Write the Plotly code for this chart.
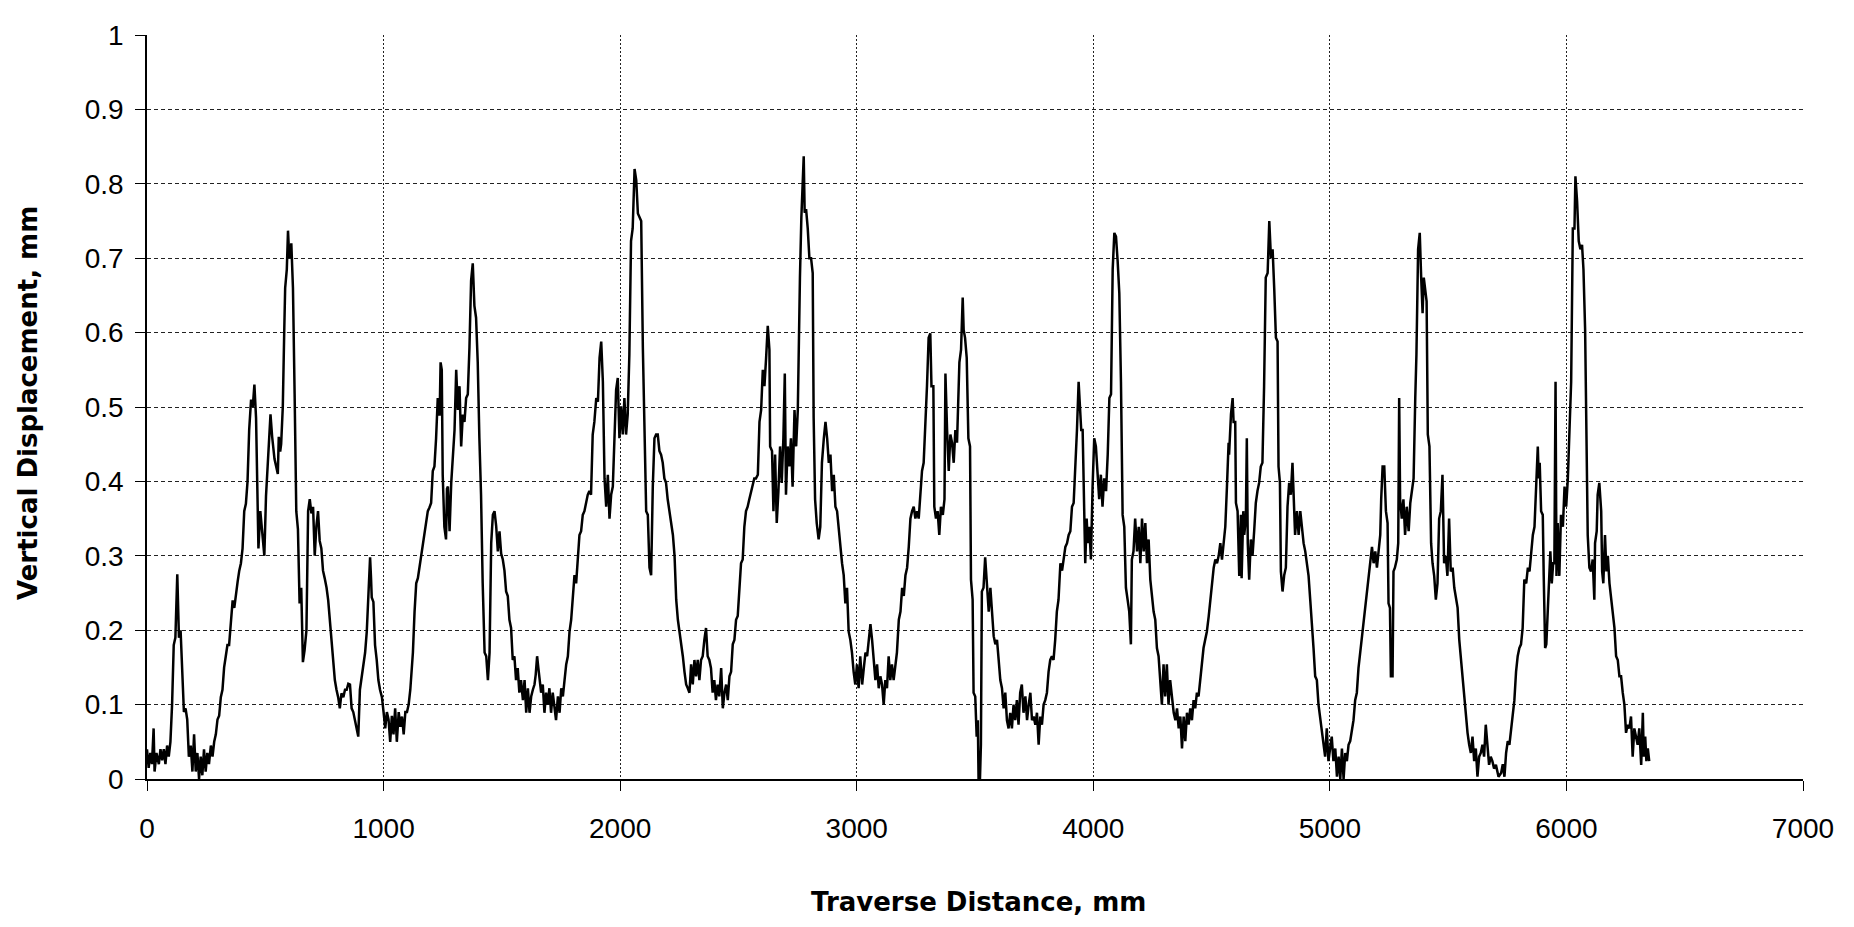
import plotly.graph_objects as go

# (distance mm, vertical displacement mm), one list per wave
wave_1 = [(0,0.04),(7,0.015),(14,0.035),(21,0.02),(28,0.068),(32,0.01),(40,0.035),(50,0.02),(57,0.04),(64,0.025),
          (71,0.04),(78,0.02),(85,0.045),(92,0.03),(99,0.05),(106,0.10),(113,0.18),(120,0.19),(128,0.275),(135,0.19),
          (142,0.2),(149,0.15),(156,0.09),(163,0.095),(170,0.08),(177,0.03),(185,0.045),(192,0.01),(199,0.06),(206,0.01),
          (213,0.035),(220,0.0),(227,0.03),(234,0.005),(241,0.04),(248,0.01),(255,0.035),(262,0.02),(270,0.045),(277,0.03),
          (284,0.05),(291,0.06),(298,0.08),(305,0.085),(312,0.11),(319,0.12),(326,0.15),(333,0.165),(340,0.18),(347,0.18),
          (354,0.215),(362,0.24),(369,0.23),(376,0.25),(383,0.265),(390,0.28),(397,0.29),(404,0.31),(411,0.36),(418,0.37),
          (425,0.40),(432,0.47),(440,0.51),(447,0.50),(454,0.53),(461,0.485),(465,0.39),(471,0.31),(479,0.36),(489,0.33),
          (496,0.30),(503,0.38),(509,0.42),(515,0.45),(522,0.49),(529,0.46),(535,0.44),(539,0.43),(546,0.42),(553,0.41),
          (557,0.46),(563,0.44),(567,0.45),(574,0.50),(580,0.60),(584,0.66),(591,0.685),(596,0.737),(600,0.71),(603,0.70),
          (610,0.72),(614,0.69),(617,0.66),(624,0.517),(631,0.36),(638,0.336),(645,0.236),(652,0.257),(659,0.157),(666,0.173),
          (674,0.20),(681,0.36),(688,0.376),(695,0.357),(702,0.366),(709,0.30),(716,0.34),(723,0.36),(730,0.32),(737,0.31),
          (744,0.28),(751,0.27),(759,0.257),(766,0.24),(773,0.214),(780,0.19),(787,0.17),(794,0.133),(801,0.12),(808,0.11),
          (815,0.095),(822,0.115),(830,0.11),(837,0.12),(844,0.12),(851,0.128),(858,0.127),(865,0.095),(872,0.09),(879,0.08),
          (886,0.07),(893,0.057),(900,0.12),(908,0.14),(915,0.16),(922,0.17),(929,0.198),(936,0.24),(943,0.298),(947,0.27),
          (950,0.244),(957,0.238),(964,0.18),(971,0.16),(978,0.133),(985,0.12),(993,0.11),(1000,0.09),(1007,0.068),(1014,0.09),
          (1021,0.08),(1028,0.05),(1035,0.085),(1042,0.06),(1049,0.095),(1056,0.05),(1064,0.09),(1071,0.07),(1078,0.084),(1085,0.06),
          (1092,0.09),(1099,0.09),(1106,0.10)]

wave_2 = [(1113,0.12),(1124,0.17),(1131,0.225),(1138,0.263),(1145,0.27),(1152,0.284),(1159,0.3),(1166,0.317),(1173,0.328),(1180,0.34),
          (1187,0.36),(1194,0.365),(1201,0.371),(1208,0.414),(1215,0.42),(1222,0.458),(1229,0.512),(1233,0.49),(1237,0.49),(1241,0.56),
          (1246,0.55),(1250,0.409),(1254,0.38),(1257,0.339),(1264,0.322),(1268,0.39),(1272,0.393),(1276,0.35),(1279,0.333),(1286,0.398),
          (1293,0.43),(1300,0.469),(1307,0.55),(1310,0.51),(1314,0.496),(1321,0.528),(1325,0.47),(1328,0.447),(1335,0.49),(1342,0.48),
          (1349,0.512),(1356,0.517),(1363,0.58),(1370,0.67),(1377,0.693),(1381,0.66),(1384,0.636),(1391,0.62),(1398,0.56),(1405,0.458),
          (1412,0.382),(1419,0.263),(1427,0.17),(1434,0.165),(1441,0.133),(1448,0.17),(1455,0.317),(1462,0.355),(1469,0.36),(1476,0.34),
          (1483,0.306),(1490,0.333),(1497,0.303),(1504,0.295),(1511,0.28),(1518,0.252),(1525,0.246),(1532,0.214),(1539,0.203),(1546,0.16),
          (1553,0.165),(1560,0.133),(1567,0.149),(1574,0.116),(1581,0.133),(1589,0.106),(1596,0.133),(1603,0.089),(1610,0.122),(1617,0.089),
          (1624,0.111),(1631,0.12),(1638,0.127),(1643,0.14),(1649,0.165),(1654,0.15),(1659,0.138),(1666,0.116),(1673,0.127),(1680,0.089),
          (1687,0.116),(1694,0.10),(1701,0.122),(1708,0.089),(1715,0.116),(1722,0.095),(1729,0.079),(1737,0.111),(1744,0.089),(1751,0.122),
          (1758,0.111),(1765,0.133),(1772,0.154),(1779,0.165),(1786,0.198),(1793,0.214),(1800,0.252),(1807,0.274),(1814,0.263),(1821,0.30),
          (1828,0.328),(1835,0.333),(1842,0.355),(1849,0.36),(1856,0.371),(1863,0.382),(1870,0.387),(1877,0.382),(1884,0.463),(1891,0.48),
          (1899,0.512),(1906,0.507),(1913,0.566),(1920,0.588),(1927,0.534),(1934,0.404),(1941,0.366),(1948,0.409),(1955,0.35),(1962,0.382),
          (1969,0.393),(1976,0.469),(1983,0.523),(1990,0.539),(1997,0.458),(2004,0.501),(2011,0.463),(2018,0.512),(2025,0.463),(2032,0.49),
          (2039,0.571),(2046,0.723),(2053,0.74),(2061,0.82),(2068,0.805),(2075,0.76),(2082,0.755),(2089,0.75),(2096,0.58),(2103,0.463),
          (2110,0.36),(2117,0.355),(2124,0.284),(2131,0.274),(2138,0.393),(2145,0.458),(2152,0.463),(2159,0.463),(2166,0.441),(2173,0.436),
          (2180,0.425),(2187,0.404),(2194,0.398),(2201,0.376),(2209,0.36),(2216,0.344),(2223,0.328),(2230,0.30),(2237,0.241),(2244,0.214),
          (2251,0.198),(2258,0.187),(2265,0.165),(2272,0.144),(2279,0.127),(2286,0.122)]

wave_3 = [(2293,0.116),(2300,0.154),(2307,0.127),(2314,0.16),(2321,0.138),(2328,0.16),(2335,0.133),(2342,0.16),(2349,0.165),(2356,0.187),
          (2363,0.203),(2370,0.165),(2377,0.16),(2384,0.149),(2391,0.116),(2398,0.133),(2405,0.106),(2412,0.127),(2419,0.111),(2427,0.149),
          (2434,0.095),(2441,0.116),(2448,0.127),(2455,0.106),(2462,0.138),(2469,0.144),(2476,0.181),(2483,0.187),(2490,0.214),(2497,0.219),
          (2504,0.263),(2511,0.29),(2518,0.295),(2525,0.339),(2532,0.36),(2539,0.366),(2546,0.376),(2553,0.387),(2560,0.398),(2567,0.404),
          (2574,0.404),(2582,0.409),(2589,0.48),(2596,0.496),(2603,0.55),(2610,0.528),(2617,0.566),(2624,0.609),(2631,0.577),(2634,0.447),
          (2642,0.441),(2648,0.36),(2655,0.436),(2662,0.344),(2669,0.387),(2676,0.447),(2683,0.398),(2690,0.458),(2696,0.545),(2701,0.382),
          (2708,0.447),(2715,0.42),(2722,0.458),(2729,0.393),(2737,0.496),(2744,0.447),(2751,0.496),(2755,0.599),(2760,0.674),(2766,0.755),
          (2772,0.826),(2776,0.837),(2780,0.761),(2786,0.766),(2793,0.74),(2800,0.70),(2807,0.70),(2814,0.68),(2818,0.485),(2824,0.376),
          (2831,0.344),(2839,0.322),(2846,0.339),(2853,0.425),(2861,0.458),(2868,0.48),(2875,0.458),(2882,0.425),(2889,0.436),(2896,0.387),
          (2903,0.409),(2910,0.366),(2917,0.36),(2924,0.333),(2931,0.306),(2938,0.29),(2945,0.274),(2952,0.236),(2959,0.257),(2966,0.198),
          (2973,0.187),(2980,0.17),(2987,0.144),(2994,0.127),(3001,0.154),(3008,0.122),(3015,0.165),(3023,0.127),(3030,0.149),(3037,0.17),
          (3044,0.165),(3051,0.187),(3058,0.208),(3065,0.187),(3072,0.16),(3079,0.133),(3086,0.154),(3093,0.122),(3100,0.138),(3107,0.127),
          (3114,0.10),(3121,0.133),(3128,0.122),(3135,0.165),(3142,0.133),(3149,0.154),(3156,0.133),(3163,0.149),(3170,0.17),(3178,0.214),
          (3185,0.225),(3192,0.257),(3199,0.246),(3206,0.274),(3213,0.284),(3220,0.312),(3227,0.35),(3234,0.36),(3241,0.366),(3248,0.35),
          (3255,0.36),(3262,0.35),(3269,0.382),(3276,0.414),(3283,0.425),(3290,0.469),(3297,0.528),(3304,0.593),(3311,0.599),(3316,0.528),
          (3324,0.528),(3328,0.366),(3335,0.35),(3342,0.36),(3349,0.328),(3356,0.366),(3364,0.355),(3371,0.376),(3375,0.545),(3382,0.469),
          (3389,0.414),(3396,0.463),(3403,0.452),(3410,0.425),(3417,0.469),(3424,0.452),(3431,0.555)]

wave_4 = [(3434,0.56),(3441,0.577),(3448,0.647),(3452,0.604),(3458,0.593),(3465,0.566),(3472,0.458),(3479,0.447),(3483,0.268),(3490,0.241),
          (3494,0.116),(3501,0.111),(3507,0.057),(3512,0.079),(3515,0.0),(3521,0.0),(3525,0.046),(3529,0.252),(3536,0.257),(3543,0.298),
          (3551,0.263),(3558,0.225),(3565,0.257),(3572,0.225),(3579,0.192),(3586,0.181),(3593,0.187),(3600,0.16),(3607,0.133),(3614,0.122),
          (3621,0.095),(3628,0.116),(3635,0.079),(3642,0.068),(3649,0.089),(3656,0.068),(3663,0.10),(3670,0.079),(3677,0.106),(3684,0.073),
          (3691,0.116),(3698,0.127),(3705,0.089),(3713,0.111),(3720,0.079),(3727,0.10),(3734,0.116),(3741,0.079),(3748,0.084),(3755,0.073),
          (3762,0.089),(3769,0.046),(3776,0.084),(3783,0.073),(3790,0.10),(3797,0.106),(3804,0.116),(3811,0.144),(3818,0.16),(3825,0.165),
          (3832,0.16),(3839,0.187),(3846,0.225),(3853,0.241),(3861,0.29),(3868,0.28),(3875,0.30),(3882,0.312),(3889,0.317),(3896,0.328),
          (3903,0.333),(3910,0.366),(3917,0.371),(3924,0.414),(3931,0.469),(3938,0.534),(3944,0.49),(3949,0.469),(3955,0.469),(3961,0.35),
          (3966,0.29),(3972,0.35),(3977,0.317),(3983,0.339),(3990,0.295),(3997,0.393),(4004,0.458),(4011,0.447),(4018,0.404),(4025,0.376),
          (4032,0.409),(4039,0.366),(4046,0.404),(4054,0.387),(4061,0.436),(4068,0.512),(4075,0.517),(4082,0.685),(4089,0.734),(4096,0.729),
          (4103,0.696),(4110,0.653),(4117,0.534),(4124,0.355),(4131,0.339),(4138,0.257),(4145,0.241),(4152,0.225),(4159,0.181),(4163,0.295),
          (4170,0.306),(4177,0.35),(4185,0.306),(4192,0.339),(4199,0.29),(4206,0.35),(4213,0.306),(4220,0.344),(4227,0.29),(4234,0.322),
          (4241,0.268),(4248,0.241),(4255,0.225),(4262,0.214),(4269,0.176),(4276,0.165),(4283,0.133),(4290,0.10),(4297,0.154),(4304,0.111),
          (4311,0.154),(4318,0.10),(4325,0.133),(4333,0.111),(4340,0.089),(4347,0.079),(4354,0.095),(4361,0.068),(4368,0.084),(4375,0.041),
          (4382,0.084),(4389,0.051),(4396,0.089),(4403,0.073),(4410,0.095),(4417,0.079),(4424,0.106),(4431,0.095),(4438,0.116),(4445,0.111),
          (4452,0.133),(4459,0.154),(4466,0.176),(4473,0.187),(4480,0.198),(4488,0.219),(4495,0.241),(4502,0.257),(4509,0.284),(4516,0.295),
          (4523,0.29),(4530,0.30),(4537,0.317),(4544,0.295),(4551,0.322),(4558,0.339),(4565,0.393),(4572,0.452)]

wave_5 = [(4574,0.436),(4582,0.49),(4589,0.512),(4593,0.48),(4600,0.48),(4603,0.371),(4610,0.36),(4617,0.273),(4624,0.355),(4627,0.27),
          (4634,0.36),(4638,0.328),(4645,0.35),(4649,0.458),(4653,0.317),(4659,0.268),(4666,0.322),(4673,0.30),(4680,0.333),(4687,0.371),
          (4694,0.387),(4701,0.398),(4708,0.42),(4715,0.425),(4722,0.528),(4729,0.674),(4737,0.68),(4744,0.75),(4751,0.70),(4758,0.712),
          (4765,0.658),(4772,0.593),(4779,0.588),(4783,0.42),(4789,0.398),(4793,0.279),(4800,0.252),(4807,0.274),(4814,0.284),(4821,0.366),
          (4828,0.398),(4835,0.382),(4842,0.425),(4849,0.36),(4853,0.328),(4861,0.36),(4868,0.328),(4875,0.36),(4882,0.333),(4889,0.317),
          (4896,0.306),(4903,0.29),(4910,0.273),(4917,0.241),(4924,0.214),(4931,0.176),(4938,0.138),(4945,0.133),(4952,0.10),(4959,0.084),
          (4966,0.068),(4973,0.046),(4980,0.03),(4987,0.068),(4994,0.024),(5001,0.041),(5008,0.057),(5015,0.024),(5023,0.041),(5030,0.003),
          (5037,0.03),(5044,0.0),(5051,0.041),(5058,0.0),(5065,0.035),(5072,0.024),(5079,0.046),(5086,0.051),(5093,0.068),(5100,0.079),
          (5107,0.106),(5114,0.116),(5121,0.149),(5128,0.17),(5135,0.187),(5142,0.208),(5149,0.23),(5156,0.252),(5163,0.273),(5170,0.295),
          (5178,0.312),(5185,0.29),(5192,0.306),(5199,0.284),(5206,0.306),(5213,0.328),(5217,0.376),(5223,0.42),(5230,0.42),(5237,0.36),
          (5244,0.344),(5248,0.236),(5254,0.23),(5258,0.138),(5265,0.138),(5269,0.279),(5275,0.284),(5283,0.295),(5289,0.317),(5293,0.512),
          (5297,0.376),(5304,0.35),(5311,0.376),(5318,0.328),(5325,0.366),(5333,0.333),(5340,0.371),(5347,0.387),(5354,0.404),(5361,0.512),
          (5366,0.571),(5373,0.712),(5380,0.734),(5386,0.674),(5392,0.626),(5397,0.674),(5403,0.653),(5409,0.642),(5414,0.463),(5421,0.447),
          (5428,0.317),(5434,0.29),(5441,0.273),(5448,0.241),(5455,0.263),(5462,0.35),(5469,0.36),(5476,0.409),(5483,0.29),(5490,0.30),
          (5497,0.273),(5504,0.35),(5511,0.279),(5519,0.284),(5526,0.257),(5533,0.241),(5540,0.23),(5547,0.187),(5554,0.16),(5561,0.138),
          (5568,0.116),(5575,0.089),(5582,0.062),(5589,0.046),(5596,0.035),(5603,0.057),(5610,0.024),(5617,0.041),(5624,0.003),(5631,0.03),
          (5638,0.035),(5645,0.046),(5652,0.03),(5659,0.073),(5666,0.041),(5673,0.019),(5680,0.03),(5687,0.024),(5694,0.014),(5702,0.019),
          (5713,0.003)]

wave_6 = [(5724,0.008),(5731,0.02),(5738,0.003),(5745,0.035),(5752,0.051),(5759,0.046),(5766,0.068),(5773,0.089),(5780,0.106),(5787,0.144),
          (5794,0.165),(5801,0.176),(5808,0.181),(5815,0.203),(5822,0.268),(5830,0.263),(5837,0.284),(5844,0.279),(5851,0.30),(5858,0.328),
          (5865,0.339),(5872,0.387),(5879,0.447),(5883,0.404),(5887,0.425),(5893,0.36),(5900,0.355),(5904,0.273),(5910,0.176),(5915,0.181),
          (5921,0.225),(5928,0.268),(5932,0.306),(5938,0.263),(5944,0.29),(5949,0.29),(5954,0.534),(5958,0.273),(5963,0.344),(5970,0.273),
          (5977,0.355),(5985,0.339),(5992,0.393),(5999,0.366),(6006,0.404),(6013,0.469),(6020,0.534),(6027,0.74),(6034,0.74),(6038,0.81),
          (6045,0.777),(6052,0.723),(6059,0.712),(6066,0.718),(6072,0.685),(6079,0.604),(6085,0.409),(6090,0.328),(6097,0.284),(6104,0.279),
          (6111,0.295),(6118,0.241),(6121,0.317),(6128,0.333),(6132,0.382),(6139,0.398),(6147,0.36),(6151,0.279),(6156,0.263),(6163,0.328),
          (6169,0.279),(6175,0.30),(6182,0.263),(6189,0.241),(6196,0.225),(6203,0.203),(6210,0.165),(6217,0.16),(6224,0.138),(6231,0.138),
          (6238,0.116),(6245,0.10),(6252,0.062),(6259,0.073),(6266,0.068),(6273,0.084),(6280,0.03),(6287,0.068),(6294,0.057),(6301,0.046),
          (6308,0.068),(6316,0.019),(6323,0.089),(6327,0.03),(6333,0.057),(6338,0.024),(6344,0.041),(6350,0.024)]

x_ticks = [0, 1000, 2000, 3000, 4000, 5000, 6000, 7000]
y_ticks = [0, 0.1, 0.2, 0.3, 0.4, 0.5, 0.6, 0.7, 0.8, 0.9, 1]
x_title = "Traverse Distance, mm"
y_title = "Vertical Displacement, mm"

waves = [wave_1, wave_2, wave_3, wave_4, wave_5, wave_6]
distance = [p[0] for w in waves for p in w]
displacement = [p[1] for w in waves for p in w]

fig = go.Figure()
fig.add_trace(go.Scatter(x=distance, y=displacement, mode="lines",
                         line=dict(color="black", width=2.5), showlegend=False))

tick_font = dict(family="Liberation Sans, Arial, sans-serif", size=28, color="black")
title_font = dict(family="DejaVu Sans, sans-serif", size=26, color="black")

fig.update_layout(
    width=1838, height=911,
    margin=dict(l=139, r=42, t=20, b=140),
    paper_bgcolor="white", plot_bgcolor="white",
    xaxis=dict(range=[0, 7000], tickvals=x_ticks, ticktext=[str(v) for v in x_ticks],
               showgrid=True, gridcolor="#222", gridwidth=1, griddash="2px,2px",
               showline=True, linecolor="black", linewidth=1.5, zeroline=False,
               ticks="outside", ticklen=10, tickcolor="black", tickwidth=1,
               tickfont=tick_font, ticklabelstandoff=14),
    yaxis=dict(range=[0, 1], tickvals=y_ticks, ticktext=[("%g" % v) for v in y_ticks],
               showgrid=True, gridcolor="#222", gridwidth=1, griddash="4px,3px",
               showline=True, linecolor="black", linewidth=1.5, zeroline=False,
               ticks="outside", ticklen=10, tickcolor="black", tickwidth=1,
               tickfont=tick_font, ticklabelstandoff=6),
    annotations=[
        dict(text="<b>%s</b>" % x_title, xref="paper", yref="paper", x=0.5, y=0,
             xanchor="center", yanchor="middle", yshift=-123, xshift=3,
             showarrow=False, font=title_font),
        dict(text="<b>%s</b>" % y_title, xref="paper", yref="paper", x=0, y=0.5,
             xanchor="center", yanchor="middle", xshift=-119, yshift=4, textangle=-90,
             showarrow=False, font=title_font),
    ],
)

fig.write_html("out.html")
